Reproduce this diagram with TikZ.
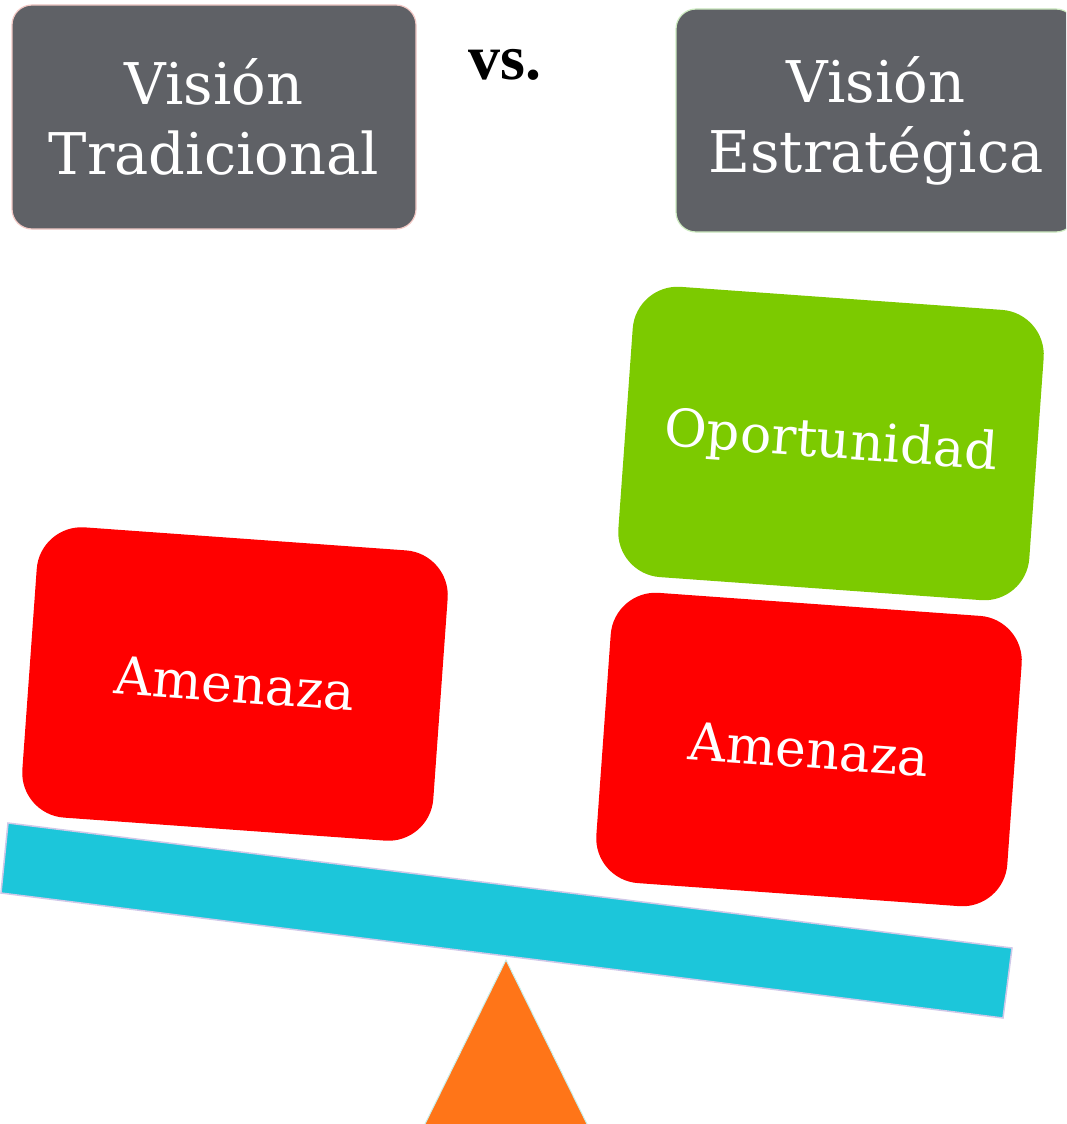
\documentclass[tikz,border=0pt]{standalone}
\usepackage{fontspec}
\setmainfont{DejaVu Serif}
\newfontfamily\vsfont{Liberation Serif}
\definecolor{boxgray}{HTML}{5F6166}
\definecolor{oppgreen}{HTML}{7CCA00}
\definecolor{threatred}{HTML}{FF0000}
\definecolor{beamcyan}{HTML}{1CC6DA}
\definecolor{beamedge}{HTML}{CFC8E8}
\definecolor{fulcrum}{HTML}{FF7518}
\definecolor{fulcrumedge}{HTML}{C8F0EC}
\definecolor{pinkedge}{HTML}{F2C8C4}
\definecolor{greenedge}{HTML}{CDEBC0}
\tikzset{
  headbox/.style={fill=boxgray, rounded corners=20pt, line width=1.2pt, text=white,
    align=center, inner sep=0pt, font=\fontsize{57.5}{70}\selectfont},
  tilebox/.style={rounded corners=45pt, minimum width=412pt, minimum height=291pt,
    inner sep=0pt, text=white, rotate=-4.1, font=\fontsize{52}{60}\selectfont},
}
\begin{document}
\begin{tikzpicture}[x=1pt,y=-1pt]
\useasboundingbox (0,0) rectangle (1066,1124);
\clip (0,0) rectangle (1066,1124);
% top boxes
\node[headbox, draw=pinkedge, minimum width=404pt, minimum height=224pt] (trad) at (214,117) {Visión\\Tradicional};
\node[headbox, draw=greenedge, minimum width=400pt, minimum height=223pt] (estr) at (876,120.5) {Visión\\Estratégica};
\node[font=\vsfont\bfseries\fontsize{64}{70}\selectfont, inner sep=0pt, anchor=base] (vs) at (505,80) {vs.};
% fulcrum
\path[fill=fulcrum, draw=fulcrumedge, line width=1pt] (506,960) coordinate (apex) -- (424,1126) -- (588,1126) -- cycle;
% beam
\path[fill=beamcyan, draw=beamedge, line width=1.5pt] (8,823) coordinate (bl1) -- (1012,948) -- (1003,1018) -- (1,893) -- cycle;
% tiles
\node[tilebox, fill=threatred] (amen1) at (235,684) {Amenaza};
\node[tilebox, fill=oppgreen] (oport) at (831,443.5) {Oportunidad};
\node[tilebox, fill=threatred] (amen2) at (809,749.5) {Amenaza};
\end{tikzpicture}
\end{document}
